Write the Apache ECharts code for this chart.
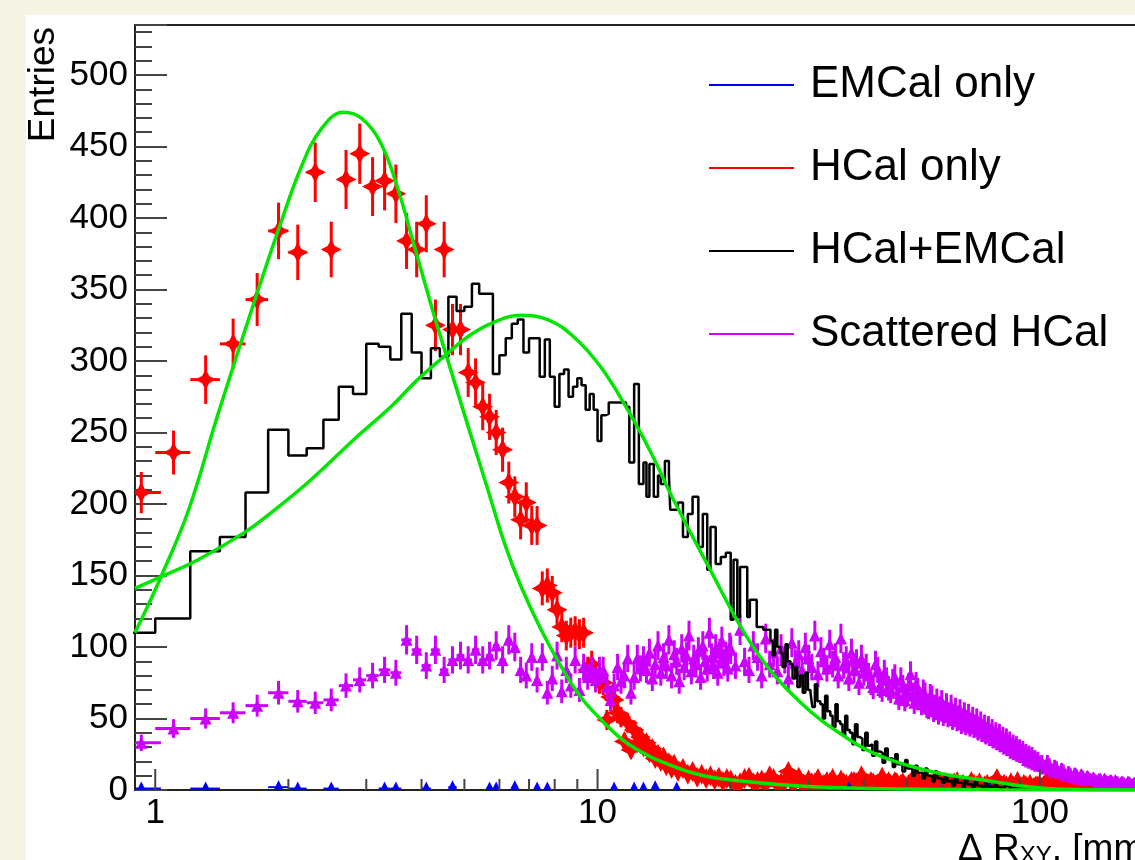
<!DOCTYPE html>
<html>
<head>
<meta charset="utf-8">
<script src="https://cdn.jsdelivr.net/npm/echarts@6/dist/echarts.min.js"></script>
<style>
  html, body { margin: 0; padding: 0; }
  #wrap { position: relative; width: 1135px; height: 860px; background: #f6f4e4; overflow: hidden; }
  #panel { position: absolute; left: 26px; top: 15px; width: 1109px; height: 845px; background: #fff; }
  /* the chart is wider than the picture: its frame runs past the right edge */
  #chart { position: absolute; left: 0; top: 0; width: 1180px; height: 860px; }
</style>
</head>
<body>
<div id="wrap"><div id="panel"></div><div id="chart"></div></div>
<script>
// ΔR_XY distributions (x = bin centre in mm, y = entries)

const legendNames = ['EMCal only', 'HCal only', 'HCal+EMCal', 'Scattered HCal'];

const emcalOnly = [
  [0.93, 1], [1.3, 1], [1.9, 2], [2.1, 1], [2.5, 1], [3.3, 1], [3.5, 1], [4.1, 1], [4.7, 2],
  [5.7, 1], [5.9, 1], [6.5, 2], [7.3, 1], [7.7, 1], [10.9, 1], [12.1, 1], [12.7, 1], [13.5, 2],
  [15.1, 1], [37, 1], [77, 1]
];

const hcalOnly = [
  [0.93, 208], [1.1, 236], [1.3, 287], [1.5, 312], [1.7, 343], [1.9, 391], [2.1, 376], [2.3, 432],
  [2.5, 378], [2.7, 427], [2.9, 445], [3.1, 422], [3.3, 426], [3.5, 417], [3.7, 384], [3.9, 378],
  [4.1, 396], [4.3, 325], [4.5, 378], [4.7, 322], [4.9, 322], [5.1, 292], [5.3, 285], [5.5, 268],
  [5.7, 261], [5.9, 250], [6.1, 238], [6.3, 215], [6.5, 205], [6.7, 189], [6.9, 201], [7.1, 185],
  [7.3, 185], [7.5, 141], [7.7, 143], [7.9, 138], [8.1, 126], [8.3, 114], [8.5, 108], [8.7, 110],
  [8.9, 111], [9.1, 109], [9.3, 110], [9.5, 84], [9.7, 88], [9.9, 79], [10.1, 76], [10.3, 75],
  [10.5, 49], [10.7, 65], [10.9, 63], [11.1, 54], [11.3, 51], [11.5, 34], [11.7, 47], [11.9, 28],
  [12.1, 42], [12.3, 33], [12.5, 37], [12.7, 30], [12.9, 33], [13.1, 26], [13.3, 29], [13.5, 22],
  [13.7, 25], [13.9, 20], [14.1, 23], [14.3, 17], [14.5, 19], [14.7, 15], [14.9, 18], [15.2, 13],
  [15.6, 15], [16.0, 11], [16.4, 13], [16.8, 9], [17.2, 11], [17.6, 8], [18.0, 10], [18.4, 7],
  [18.8, 9], [19.2, 6], [19.6, 8], [20, 7], [20.5, 4], [21, 5], [21.5, 8], [22, 9], [22.5, 5],
  [23, 6], [23.5, 7], [24, 4], [24.5, 10], [25, 8], [25.5, 4], [26, 5], [26.5, 6], [27, 13],
  [27.5, 5], [28, 6], [28.5, 9], [29, 4], [29.5, 3], [30, 7], [30.5, 5], [31, 5], [31.5, 8],
  [32, 3], [32.5, 4], [33, 6], [33.5, 5], [34, 8], [34.5, 3], [35, 4], [35.5, 7], [36, 5],
  [36.5, 4], [37, 3], [37.5, 6], [38, 6], [38.5, 3], [39, 4], [39.5, 10], [40, 7], [40.5, 4],
  [41, 3], [41.5, 6], [42, 5], [42.5, 3], [43, 4], [43.5, 5], [44, 9], [44.5, 4], [45, 3],
  [45.5, 6], [46, 4], [46.5, 3], [47, 6], [47.5, 5], [48, 3], [48.5, 4], [49, 5], [49.5, 3],
  [50, 2], [50.5, 4], [51, 5], [51.5, 3], [52, 6], [52.5, 4], [53, 7], [53.5, 3], [54, 4],
  [54.5, 5], [55, 3], [55.5, 6], [56, 3], [56.5, 4], [57, 2], [57.5, 5], [58, 7], [58.5, 3],
  [59, 4], [59.5, 6], [60, 2], [61, 5], [62, 4], [63, 3], [64, 5], [65, 6], [66, 3], [67, 4],
  [68, 2], [69, 3], [70, 6], [71, 4], [72, 3], [73, 5], [74, 2], [75, 3], [76, 4], [77, 2],
  [78, 3], [79, 5], [80, 8], [81, 3], [82, 2], [83, 4], [84, 3], [85, 2], [86, 5], [87, 3],
  [88, 2], [89, 6], [90, 3], [91, 2], [92, 4], [93, 3], [94, 2], [95, 4], [96, 1], [97, 2],
  [98, 3], [99, 3], [100, 2], [102, 3], [104, 7], [106, 2], [108, 3], [110, 4], [112, 1],
  [114, 2], [116, 4], [118, 3], [120, 2], [122, 1], [124, 1], [126, 2], [128, 2], [130, 3],
  [132, 1], [134, 1], [136, 1], [138, 2]
];

// HCal+EMCal histogram: left bin edges and contents
const comboEdges = [
  0.8, 1.0, 1.2, 1.4, 1.6, 1.8, 2.0, 2.2, 2.4, 2.6, 2.8, 3.0, 3.2, 3.4, 3.6, 3.8, 4.0, 4.2, 4.4,
  4.6, 4.8, 5.0, 5.2, 5.4, 5.6, 5.8, 6.0, 6.2, 6.4, 6.6, 6.8, 7.0, 7.2, 7.4, 7.6, 7.8, 8.0, 8.2,
  8.4, 8.6, 8.8, 9.0, 9.2, 9.4, 9.6, 9.8, 10.0, 10.2, 10.4, 10.6, 11.6, 11.8, 12.1, 12.4, 12.7,
  12.9, 13.1, 13.4, 13.7, 13.9, 14.2, 14.5, 14.6, 15.2, 15.6, 16.0, 16.4, 16.9, 17.3, 17.7, 18.0,
  18.5, 19.0, 19.5, 20.0, 20.3, 20.7, 21.0, 21.8, 22.1, 22.9, 23.7,
  24.6, 24.9, 25.2, 25.5, 25.9, 26.2, 26.6, 26.9, 27.3, 27.6, 28.0, 28.3, 28.7, 29.1, 29.5, 29.9,
  30.3, 30.6, 31.0, 31.4, 31.9, 32.3, 32.7, 33.1, 33.6, 34.0, 34.5, 34.9, 35.4, 35.8, 36.3, 36.7,
  37.2, 37.7, 38.2, 38.7, 39.2, 39.7, 40.3, 40.8, 41.3, 41.8, 42.4, 42.9, 43.5, 44.1, 44.7, 45.3,
  45.9, 46.5, 47.1, 47.7, 48.3, 48.9, 49.6, 50.2, 50.9, 51.5, 52.2, 52.9, 53.6, 54.3, 55.0, 55.7,
  56.4, 57.1, 57.9, 58.7, 59.5, 60.2, 61.0, 61.8, 62.6, 63.4, 64.3, 65.1, 66.0, 66.8, 67.7, 68.6,
  69.5, 70.4, 71.3, 72.2, 73.2, 74.1, 75.1, 76.1, 77.1, 78.1, 79.1, 80.1, 81.2, 83.3, 85.5, 87.8,
  90.1, 92.5, 94.9, 97.4, 100, 102.6, 105.3, 108, 110.9
];
const comboCounts = [
  110, 120, 167, 177, 208, 252, 234, 239, 259, 282, 277, 312, 310, 301, 333, 306, 288, 309, 303,
  345, 335, 338, 354, 347, 347, 291, 304, 316, 326, 329, 306, 316, 316, 289, 315, 289, 268, 291,
  294, 275, 282, 288, 283, 266, 277, 266, 244, 262, 263, 271, 268, 229, 284, 214, 229,
  205, 228, 205, 220, 214, 230, 220, 196, 201, 177, 193, 205, 170, 193, 154, 184,
  158, 163, 166, 119, 161, 121, 156, 121, 133, 114, 112,
  104, 94, 112, 100, 96, 86, 102, 90, 88, 78, 86, 72, 80, 68, 82, 70,
  68, 58, 74, 62, 60, 50, 66, 55, 52, 44, 60, 48, 46, 38, 52, 42,
  40, 32, 46, 37, 36, 28, 40, 31, 32, 24, 34, 27, 26, 19, 29, 22,
  22, 16, 25, 18, 18, 13, 21, 15, 15, 10, 17, 12, 12, 8, 15, 10,
  10, 6, 13, 8, 8, 5, 10, 6, 7, 3, 9, 5, 5, 2, 7, 4,
  4, 2, 6, 3, 3, 1, 5, 2, 3, 1, 4, 2, 1, 3, 1, 2,
  1, 0, 1, 0, 1, 0, 1, 0, 0
];

const scatteredHcal = [
  [0.93, 33], [1.1, 43], [1.3, 50], [1.5, 54], [1.7, 59], [1.9, 68], [2.1, 62], [2.3, 61], [2.5, 63],
  [2.7, 73], [2.9, 77], [3.1, 80], [3.3, 84], [3.5, 82], [3.7, 105], [3.9, 98], [4.1, 87], [4.3, 98],
  [4.5, 84], [4.7, 91], [4.9, 94], [5.1, 91], [5.3, 98], [5.5, 91], [5.7, 94], [5.9, 101], [6.1, 91],
  [6.3, 105], [6.5, 100], [6.7, 84], [6.9, 80], [7.1, 93], [7.3, 77], [7.5, 93], [7.7, 68], [7.9, 78],
  [8.1, 94], [8.3, 69], [8.5, 84], [8.7, 73], [8.9, 91], [9.1, 70], [9.3, 86], [9.5, 79], [9.7, 84],
  [9.9, 77], [10.1, 84], [10.3, 84], [10.5, 72], [10.7, 63], [10.9, 73], [11.1, 86], [11.3, 76],
  [11.5, 80], [11.7, 92], [11.9, 68], [12.1, 79], [12.3, 92], [12.5, 85], [12.7, 91],
  [12.9, 84], [13.1, 96], [13.3, 78], [13.5, 88], [13.7, 101], [13.9, 82], [14.1, 93], [14.3, 87],
  [14.5, 105], [14.7, 80], [14.9, 95], [15.1, 90], [15.3, 76], [15.5, 99], [15.7, 86], [15.9, 94],
  [16.1, 108], [16.3, 83], [16.5, 92], [16.7, 88], [16.9, 97], [17.1, 79], [17.3, 101], [17.5, 90],
  [17.7, 85], [17.9, 110], [18.1, 93], [18.3, 87], [18.5, 99], [18.7, 82], [18.9, 96], [19.1, 104],
  [19.3, 89], [19.5, 94], [19.7, 85], [19.9, 100],
  [20.0, 98], [20.5, 87], [21.0, 112], [21.5, 90], [22.0, 84], [22.5, 101], [23.0, 93], [23.5, 80],
  [24.0, 106], [24.5, 88], [25.0, 96], [25.5, 83], [26.0, 99], [26.5, 91], [27.0, 78], [27.5, 103],
  [28.0, 89], [28.5, 95], [29.0, 84], [29.5, 100], [30.0, 92], [30.5, 86], [31.0, 108], [31.5, 81],
  [32.0, 97], [32.5, 90], [33.0, 85], [33.5, 102], [34.0, 88], [34.5, 93], [35.0, 80], [35.5, 106],
  [36.0, 87], [36.5, 91], [37.0, 78], [37.5, 96], [38.0, 84], [38.5, 89], [39.0, 75], [39.5, 92],
  [40.0, 82], [40.5, 86], [41, 80], [41.5, 75], [42, 72], [42.5, 88], [43, 84], [43.5, 73], [44, 70],
  [44.5, 82], [45, 77], [45.5, 71], [46, 69], [46.5, 76], [47, 79], [47.5, 68], [48, 64], [48.5, 77],
  [49, 72], [49.5, 63], [50, 66], [50.5, 73], [51, 81], [51.5, 67], [52, 61], [52.5, 74], [53, 70],
  [53.5, 64], [54, 60], [54.5, 69], [55, 67], [55.5, 58], [56, 57], [56.5, 66], [57, 65], [57.5, 55],
  [58, 59], [58.5, 63], [59, 53], [59.5, 58], [60, 62], [60.5, 52], [61, 55], [61.5, 60], [62, 51],
  [62.5, 54], [63, 59], [63.5, 49], [64, 53], [64.5, 57], [65, 48], [65.5, 52], [66, 56], [66.5, 46],
  [67, 50], [67.5, 54], [68, 45], [68.5, 49], [69, 53], [69.5, 44], [70, 47], [70.5, 51], [71, 43],
  [71.5, 46], [72, 50], [72.5, 41], [73, 44], [73.5, 48], [74, 40], [74.5, 43], [75, 46], [75.5, 38],
  [76, 41], [76.5, 45], [77, 37], [77.5, 40], [78, 43], [78.5, 35], [79, 38], [79.5, 41], [80, 34],
  [80.5, 37], [81, 40], [81.5, 32], [82, 35], [82.5, 38], [83, 31], [83.5, 34], [84, 37], [84.5, 29],
  [85, 32], [85.5, 35], [86, 28], [86.5, 31], [87, 33], [87.5, 26], [88, 29], [88.5, 32], [89, 25],
  [89.5, 28], [90, 30], [90.5, 24], [91, 26], [91.5, 29], [92, 23], [92.5, 25], [93, 27], [93.5, 21],
  [94, 24], [94.5, 26], [95, 20], [95.5, 22], [96, 25], [96.5, 19], [97, 21], [97.5, 23], [98, 18],
  [98.5, 20], [99, 22], [99.5, 17], [100, 19], [101, 20], [102, 17], [103, 15], [104, 20], [105, 18],
  [106, 15], [107, 13], [108, 17], [109, 16], [110, 13], [111, 12], [112, 15], [113, 14], [114, 11],
  [115, 10], [116, 13], [117, 12], [118, 10], [119, 9], [120, 12], [121, 11], [122, 9], [123, 8],
  [124, 11], [125, 10], [126, 8], [127, 7], [128, 10], [129, 9], [130, 8], [131, 7], [132, 9],
  [133, 8], [134, 7], [135, 6], [136, 8], [137, 8], [138, 6], [139, 5], [140, 8], [141, 7], [142, 6],
  [143, 6], [144, 7], [145, 7], [146, 5], [147, 5], [148, 7], [149, 6], [150, 6], [151, 4], [152, 5],
  [153, 6], [154, 6], [155, 5], [156, 4], [157, 4], [158, 6], [159, 6], [160, 5], [161, 4], [162, 4],
  [163, 5], [164, 5], [165, 3], [166, 4], [167, 5], [168, 5], [169, 4], [170, 3]
];

// fitted curves (green)
const fitHcal = [
  [0.9, 110], [1.03, 149], [1.19, 196], [1.39, 264], [1.71, 350], [1.9, 392], [2.14, 436],
  [2.37, 462], [2.66, 474], [2.92, 470], [3.24, 452], [3.54, 420], [3.84, 382], [4.26, 333],
  [4.54, 305], [5.09, 255], [5.65, 210], [6.2, 170], [6.7, 143], [7.43, 113], [8.25, 87],
  [9.16, 65], [10.2, 49], [11.3, 36], [12.5, 27], [13.9, 20], [17.1, 10.5], [22.2, 5.6],
  [28.7, 2.8], [37.2, 1.4], [48.3, 0.7], [81, 0.1], [200, 0]
];
const fitCombo = [
  [0.9, 141], [1.03, 149], [1.25, 161], [1.59, 180], [1.83, 194], [2.25, 217], [2.81, 245],
  [3.41, 268], [3.92, 287], [4.49, 303], [5.09, 317], [5.82, 327], [6.7, 332], [7.71, 329],
  [8.83, 317], [10.16, 296], [11.7, 266], [13.2, 236], [14.85, 203], [17.7, 158],
  [22.5, 100], [28.7, 61.5], [37.2, 35], [44.2, 23], [57.4, 12.6], [74.4, 7], [96.4, 2],
  [115, 0.5], [200, 0]
];

const xMajorTicks = [1, 10, 100];
const xMinorTicks = [2, 3, 4, 5, 6, 7, 8, 9, 20, 30, 40, 50, 60, 70, 80, 90, 200];

const FONT = '"Liberation Sans", Arial, Helvetica, sans-serif';
const STAR = 'M0,-10L3.4,-3.4L10,0L3.4,3.4L0,10L-3.4,3.4L-10,0L-3.4,-3.4Z';
const TRIANGLE = 'M0,-1L1,1L-1,1Z';

// ROOT style "E" points: Poisson error bar, half bin width (0.1 mm) and a marker
function pointRenderer(marker, size, color, lw) {
  return function (params, api) {
    const x = api.value(0), y = api.value(1);
    const err = Math.sqrt(y);
    const c = api.coord([x, y]);
    const top = api.coord([x, y + err])[1];
    const bot = api.coord([x, y - err])[1];
    const l = api.coord([x - 0.1, y])[0];
    const r = api.coord([x + 0.1, y])[0];
    return {
      type: 'group',
      children: [
        { type: 'line', shape: { x1: c[0], y1: top, x2: c[0], y2: bot }, style: { stroke: color, lineWidth: lw } },
        { type: 'line', shape: { x1: l, y1: c[1], x2: r, y2: c[1] }, style: { stroke: color, lineWidth: lw } },
        { type: 'path', shape: { pathData: marker, x: c[0] - size / 2, y: c[1] - size / 2, width: size, height: size },
          style: { fill: color } }
      ]
    };
  };
}

function tickRenderer(len) {
  return function (params, api) {
    const p = api.coord([api.value(0), 0]);
    return { type: 'line', shape: { x1: p[0], y1: p[1], x2: p[0], y2: p[1] - len },
      style: { stroke: '#444', lineWidth: 2 } };
  };
}

const chart = echarts.init(document.getElementById('chart'));

const option = {
  animation: false,
  backgroundColor: 'transparent',
  grid: { left: 135, top: 25, right: 7, bottom: 70, outerBoundsMode: 'none', containLabel: false,
    show: true, borderColor: '#222', borderWidth: 2 },
  xAxis: {
    type: 'log', logBase: 10, min: 0.9, max: 200,
    axisLine: { show: false }, axisTick: { show: false }, splitLine: { show: false },
    axisLabel: {
      fontSize: 35, color: '#000', fontFamily: FONT, margin: 6,
      showMinLabel: false, showMaxLabel: false,
      formatter: function (v) { return xMajorTicks.indexOf(Math.round(v * 1000) / 1000) >= 0 ? String(Math.round(v)) : ''; }
    }
  },
  yAxis: {
    type: 'value', min: 0, max: 535, interval: 50,
    axisLine: { show: false },
    axisTick: { show: true, inside: true, length: 32, lineStyle: { color: '#444', width: 2 } },
    minorTick: { show: true, splitNumber: 5, length: 17, lineStyle: { color: '#444', width: 2 } },
    splitLine: { show: false }, minorSplitLine: { show: false },
    axisLabel: {
      fontSize: 35, color: '#000', fontFamily: FONT, margin: 7,
      formatter: function (v) { return v % 50 === 0 ? String(v) : ''; }
    }
  },
  legend: {
    data: legendNames.map(function (n) { return { name: n, icon: 'rect' }; }),
    orient: 'vertical', left: 709, top: 60, padding: 0, itemWidth: 85, itemHeight: 2, itemGap: 33,
    selectedMode: false,
    textStyle: { fontSize: 44, fontFamily: FONT, color: '#000', lineHeight: 50, padding: [0, 0, 0, 11] }
  },
  graphic: [
    { type: 'text', x: 44, y: 27, rotation: Math.PI / 2,
      style: { text: 'Entries', fontSize: 37, fontFamily: FONT, fill: '#000', align: 'right', verticalAlign: 'middle' } },
    { type: 'text', x: 958, y: 850,
      style: { text: 'Δ R{s|XY}, [mm]', fontSize: 37, fontFamily: FONT, fill: '#000', verticalAlign: 'middle',
        rich: { s: { fontSize: 24, fontFamily: FONT, verticalAlign: 'bottom' } } } }
  ],
  series: [
    { name: 'HCal only', type: 'custom', clip: true, itemStyle: { color: '#ff0000' },
      renderItem: pointRenderer(STAR, 21, '#ff0000', 3), data: hcalOnly },
    { name: 'EMCal only', type: 'custom', clip: true, itemStyle: { color: '#0000ff' },
      renderItem: pointRenderer(TRIANGLE, 14, '#0000ff', 2), data: emcalOnly },
    { name: 'Scattered HCal', type: 'custom', clip: true, itemStyle: { color: '#cc00ff' },
      renderItem: pointRenderer(TRIANGLE, 12, '#cc00ff', 3), data: scatteredHcal },
    { name: 'HCal+EMCal', type: 'line', step: 'end', showSymbol: false, symbol: 'none', clip: true,
      itemStyle: { color: '#000' }, lineStyle: { color: '#000', width: 2.5 },
      data: comboEdges.map(function (e, i) { return [e, comboCounts[i]]; }) },
    { name: 'fit HCal', type: 'line', smooth: 0.4, symbol: 'none', clip: true,
      lineStyle: { color: '#00e600', width: 3.5 }, data: fitHcal },
    { name: 'fit combo', type: 'line', smooth: 0.4, symbol: 'none', clip: true,
      lineStyle: { color: '#00e600', width: 3.5 }, data: fitCombo },
    { name: 'x major ticks', type: 'custom', clip: true, renderItem: tickRenderer(21),
      data: xMajorTicks.map(function (v) { return [v, 0]; }) },
    { name: 'x minor ticks', type: 'custom', clip: true, renderItem: tickRenderer(11),
      data: xMinorTicks.map(function (v) { return [v, 0]; }) }
  ]
};

chart.setOption(option);
</script>
</body>
</html>
